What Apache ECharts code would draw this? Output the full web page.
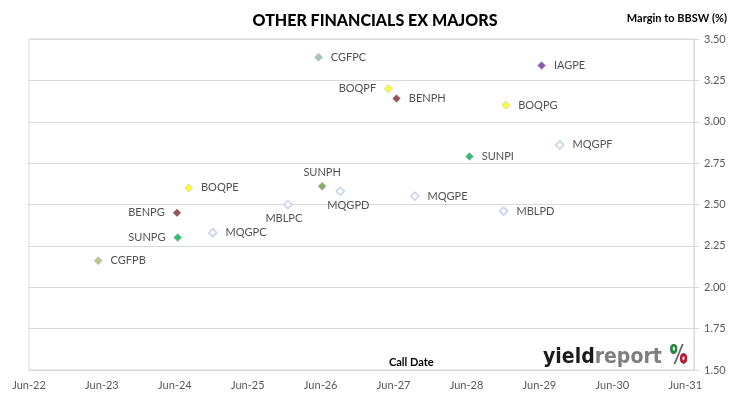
<!DOCTYPE html>
<html>
<head>
<meta charset="utf-8">
<script src="https://cdn.jsdelivr.net/npm/echarts@6/dist/echarts.min.js"></script>
<style>
  html, body { margin: 0; padding: 0; background: #fff; }
  #chart { width: 730px; height: 399px; }
</style>
</head>
<body>
<div id="chart"></div>
<script>
// call dates as decimal years, margins in %
const codes = ['CGFPC', 'IAGPE', 'BOQPF', 'BENPH', 'BOQPG', 'MQGPF', 'SUNPI', 'SUNPH', 'MQGPD',
  'BOQPE', 'MQGPE', 'MBLPC', 'MBLPD', 'BENPG', 'SUNPG', 'MQGPC', 'CGFPB']
const callDates = [2026.47, 2029.53, 2027.43, 2027.54, 2029.04, 2029.78, 2028.54, 2026.52, 2026.77,
  2024.69, 2027.79, 2026.05, 2029.01, 2024.53, 2024.54, 2025.02, 2023.45]
const margins = [3.39, 3.34, 3.20, 3.14, 3.10, 2.86, 2.79, 2.61, 2.58,
  2.60, 2.55, 2.50, 2.46, 2.45, 2.30, 2.33, 2.16]
const xTicks = ['Jun-22', 'Jun-23', 'Jun-24', 'Jun-25', 'Jun-26', 'Jun-27', 'Jun-28', 'Jun-29', 'Jun-30', 'Jun-31']

/* marker styles by code */
const fillOf = {
  CGFPC: '#95b3a0', CGFPB: '#b8b46a', IAGPE: '#7030a0',
  BOQPE: '#ffff00', BOQPF: '#ffff00', BOQPG: '#ffff00',
  BENPG: '#7b2a2a', BENPH: '#7b2a2a',
  SUNPG: '#00b050', SUNPI: '#00b050', SUNPH: '#6a9a3a'
}
const labelPos = { BOQPF: 'left', BENPG: 'left', SUNPG: 'left', SUNPH: 'top', MQGPD: 'bottom', MBLPC: 'bottom' }
const font = 'Lato, "Open Sans", sans-serif'
const logoFont = '"DejaVu Sans", sans-serif'
const grey = '#d9d9d9'

const points = codes.map((c, i) => {
  const hollow = !fillOf[c]
  const pos = labelPos[c] || 'right'
  return {
    name: c,
    value: [callDates[i], margins[i]],
    itemStyle: hollow
      ? { color: '#fff', borderColor: '#b4c7e7', borderWidth: 1.5 }
      : { color: fillOf[c], borderColor: '#a6a6a6', borderWidth: 0.6 },
    label: {
      position: pos,
      distance: pos === 'right' || pos === 'left' ? 8 : 4,
      offset: c === 'MBLPC' ? [-4, 0] : c === 'MQGPD' ? [8, 0] : [0, 0]
    }
  }
})

const chart = echarts.init(document.getElementById('chart'))
chart.setOption({
  animation: false,
  backgroundColor: '#fff',
  title: {
    text: 'OTHER FINANCIALS EX MAJORS',
    left: 370, top: 8, textAlign: 'center',
    textStyle: { fontFamily: font, fontSize: 16, fontWeight: 900, color: '#000' }
  },
  grid: { left: 29, right: 36, top: 39, bottom: 29, show: true, borderColor: grey, borderWidth: 1 },
  xAxis: {
    type: 'value',
    min: 2022.5, max: 2031.62, interval: 1,
    axisLine: { show: true, lineStyle: { color: grey } },
    axisTick: { show: false },
    splitLine: { show: false },
    axisLabel: {
      showMaxLabel: false,
      margin: 10,
      fontFamily: font, fontSize: 11, color: '#595959',
      formatter: v => {
        const k = Math.round(v - 2022.5)
        return Math.abs(v - 2022.5 - k) < 0.01 ? (xTicks[k] || '') : ''
      }
    }
  },
  yAxis: {
    type: 'value',
    position: 'right',
    min: 1.5, max: 3.5, interval: 0.25,
    axisLine: { show: true, lineStyle: { color: grey } },
    axisTick: { show: true, length: 5, lineStyle: { color: grey } },
    splitLine: { lineStyle: { color: grey } },
    axisLabel: {
      margin: 10,
      fontFamily: font, fontSize: 11, color: '#595959',
      formatter: v => v.toFixed(2)
    }
  },
  series: [{
    type: 'scatter',
    symbol: 'diamond',
    symbolSize: 8,
    data: points,
    label: {
      show: true,
      formatter: '{b}',
      fontFamily: font, fontSize: 11, color: '#262626'
    }
  }],
  graphic: [
    {
      type: 'text', right: 3, top: 13,
      style: { text: 'Margin to BBSW (%)', font: 'bold 11px ' + font, fill: '#000' }
    },
    {
      type: 'text', left: 389, top: 357,
      style: { text: 'Call Date', font: 'bold 11px ' + font, fill: '#000' }
    },
    {
      type: 'text', x: 543, y: 346, scaleX: 0.86,
      style: {
        text: '{a|yield}{b|report}',
        rich: {
          a: { font: 'bold 22px ' + logoFont, fill: '#1a1a1a' },
          b: { font: 'bold 22px ' + logoFont, fill: '#7f7f7f' }
        }
      }
    },
    {
      type: 'text', x: 669.5, y: 344, scaleX: 0.7,
      style: { text: '%', font: 'bold 26px ' + logoFont, fill: '#6b6b6b' }
    },
    { type: 'ellipse', shape: { cx: 673.8, cy: 348.7, rx: 2.3, ry: 3.3 }, style: { fill: '#fff', stroke: '#1e8a3c', lineWidth: 2.4 }, z: 10 },
    { type: 'ellipse', shape: { cx: 683.5, cy: 358.3, rx: 2.3, ry: 3.3 }, style: { fill: '#fff', stroke: '#c8102e', lineWidth: 2.4 }, z: 10 }
  ]
})
</script>
</body>
</html>
